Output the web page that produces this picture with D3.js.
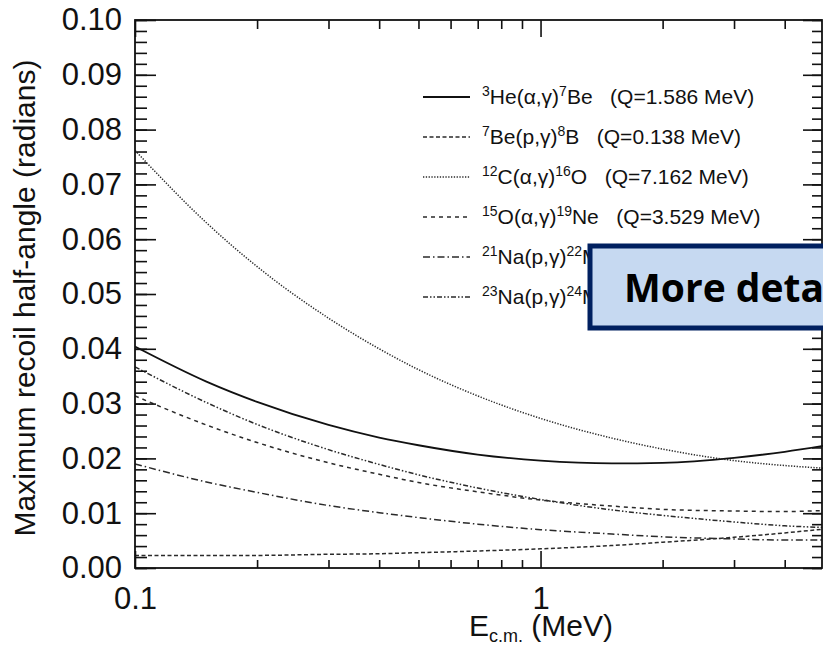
<!DOCTYPE html>
<html>
<head>
  <style>
    body {
      margin: 0;
      background: white;
    }
  </style>
</head>
<body>
  <div id="chart"></div>

  <script src="https://d3js.org/d3.v7.min.js"></script>
  <script>
  const energies = [0.1, 0.15, 0.2, 0.3, 0.4, 0.5, 0.7, 1, 1.5, 2, 3, 4, 5];

  // max recoil half-angle (radians) for each reaction
  const he3 = [0.0404, 0.0340, 0.0303, 0.0261, 0.0238, 0.0224, 0.0207, 0.0196, 0.0191, 0.0192, 0.0201, 0.0212, 0.0223];
  const be7 = [0.0023, 0.0023, 0.0023, 0.0025, 0.0026, 0.0028, 0.0031, 0.0035, 0.0041, 0.0047, 0.0056, 0.0064, 0.0071];
  const c12 = [0.0762, 0.0630, 0.0550, 0.0456, 0.0400, 0.0362, 0.0314, 0.0273, 0.0237, 0.0217, 0.0196, 0.0187, 0.0182];
  const o15 = [0.0314, 0.0261, 0.0229, 0.0192, 0.0171, 0.0156, 0.0139, 0.0124, 0.0113, 0.0107, 0.0104, 0.0103, 0.0105];
  const na21 = [0.0190, 0.0157, 0.0138, 0.0114, 0.0101, 0.0092, 0.0080, 0.0070, 0.0062, 0.0057, 0.0053, 0.0051, 0.0051];
  const na23 = [0.0367, 0.0302, 0.0262, 0.0216, 0.0189, 0.0170, 0.0146, 0.0125, 0.0106, 0.0096, 0.0084, 0.0077, 0.0074];

  // legend text pieces
  const beamMass = ["3", "7", "12", "15", "21", "23"];
  const beamSym = ["He", "Be", "C", "O", "Na", "Na"];
  const projectile = ["α", "p", "α", "α", "p", "p"];
  const prodMass = ["7", "8", "16", "19", "22", "24"];
  const prodSym = ["Be", "B", "O", "Ne", "Mg", "Mg"];
  const qValues = ["1.586", "0.138", "7.162", "3.529", "5.504", "11.693"];

  // axis ticks
  const yMajor = [0, 0.01, 0.02, 0.03, 0.04, 0.05, 0.06, 0.07, 0.08, 0.09, 0.10];
  const yMinor = d3.range(0, 0.1001, 0.002);
  const xMajor = [0.1, 1];
  const xMinor = [0.2, 0.3, 0.4, 0.5, 0.6, 0.7, 0.8, 0.9, 2, 3, 4];

  const series = [he3, be7, c12, o15, na21, na23];
  const dashes = ["none", "4,2.5", "1.3,1.5", "4,4", "7,3,1.5,3", "5,2,1.5,2,1.5,2"];

  const W = 823, H = 648;
  const pLeft = 135, pRight = 824, pTop = 20, pBottom = 568;
  const font = "'Liberation Sans', Arial, sans-serif";

  const svg = d3.select("#chart").append("svg")
      .attr("width", W)
      .attr("height", H)
      .attr("font-family", font);

  const x = d3.scaleLog().domain([0.1, 5]).range([pLeft, pRight]);
  const y = d3.scaleLinear().domain([0, 0.1]).range([pBottom, pTop]);

  svg.append("clipPath").attr("id", "clip")
    .append("rect")
      .attr("x", pLeft).attr("y", pTop)
      .attr("width", pRight - pLeft).attr("height", pBottom - pTop);

  // curves
  const line = d3.line()
      .x((d, i) => x(energies[i]))
      .y(d => y(d))
      .curve(d3.curveMonotoneX);

  svg.append("g")
      .attr("clip-path", "url(#clip)")
    .selectAll("path")
    .data(series)
    .join("path")
      .attr("d", line)
      .attr("fill", "none")
      .attr("stroke", (d, i) => i == 0 ? "#111" : "#2a2a2a")
      .attr("stroke-width", (d, i) => i == 0 ? 1.8 : 1.5)
      .attr("stroke-dasharray", (d, i) => dashes[i]);

  // axes, ticks pointing inward
  function ticksOnly(g) {
    g.select(".domain").remove();
    g.selectAll(".tick line").attr("stroke", "#111").attr("stroke-width", 1.6);
  }

  svg.append("g")
      .attr("transform", `translate(${pLeft},0)`)
      .call(d3.axisLeft(y).tickValues(yMinor).tickSize(-12).tickFormat(""))
      .call(ticksOnly);
  svg.append("g")
      .attr("transform", `translate(${pLeft},0)`)
      .call(d3.axisLeft(y).tickValues(yMajor).tickSize(-21).tickPadding(13)
        .tickFormat(d3.format(".2f")))
      .call(ticksOnly)
      .selectAll("text")
        .attr("font-family", font)
        .attr("font-size", 31)
        .attr("fill", "#111");

  svg.append("g")
      .attr("transform", `translate(${pRight - 2},0)`)
      .call(d3.axisRight(y).tickValues(yMinor).tickSize(-10).tickFormat(""))
      .call(ticksOnly);
  svg.append("g")
      .attr("transform", `translate(${pRight - 2},0)`)
      .call(d3.axisRight(y).tickValues(yMajor).tickSize(-19).tickFormat(""))
      .call(ticksOnly);

  svg.append("g")
      .attr("transform", `translate(0,${pBottom})`)
      .call(d3.axisBottom(x).tickValues(xMinor).tickSize(-8).tickFormat(""))
      .call(ticksOnly);
  svg.append("g")
      .attr("transform", `translate(0,${pBottom})`)
      .call(d3.axisBottom(x).tickValues(xMajor).tickSize(-17).tickPadding(19)
        .tickFormat(d => d == 1 ? "1" : "0.1"))
      .call(ticksOnly)
      .selectAll("text")
        .attr("font-family", font)
        .attr("font-size", 31)
        .attr("fill", "#111");

  svg.append("g")
      .attr("transform", `translate(0,${pTop})`)
      .call(d3.axisTop(x).tickValues(xMinor).tickSize(-9).tickFormat(""))
      .call(ticksOnly);
  svg.append("g")
      .attr("transform", `translate(0,${pTop})`)
      .call(d3.axisTop(x).tickValues(xMajor).tickSize(-17).tickFormat(""))
      .call(ticksOnly);

  // frame
  svg.append("rect")
      .attr("x", pLeft).attr("y", pTop)
      .attr("width", pRight - 2 - pLeft).attr("height", pBottom - pTop)
      .attr("fill", "none")
      .attr("stroke", "#111")
      .attr("stroke-width", 1.8);

  // axis titles
  const xt = svg.append("text")
      .attr("x", 541).attr("y", 636)
      .attr("text-anchor", "middle")
      .attr("font-size", 30)
      .attr("fill", "#111");
  xt.append("tspan").text("E");
  xt.append("tspan").attr("font-size", 18).attr("dy", 6).text("c.m.");
  xt.append("tspan").attr("dy", -6).text(" (MeV)");

  svg.append("text")
      .attr("transform", "translate(35,298) rotate(-90)")
      .attr("text-anchor", "middle")
      .attr("font-size", 30)
      .attr("fill", "#111")
      .text("Maximum recoil half-angle (radians)");

  // legend
  const legend = svg.append("g");
  series.forEach((s, i) => {
    const ly = 97 + i * 40;
    legend.append("line")
        .attr("x1", 423).attr("x2", 470)
        .attr("y1", ly).attr("y2", ly)
        .attr("stroke", i == 0 ? "#111" : "#2a2a2a")
        .attr("stroke-width", i == 0 ? 1.8 : 1.5)
        .attr("stroke-dasharray", dashes[i]);

    const t = legend.append("text")
        .attr("x", 482).attr("y", ly + 7)
        .attr("font-size", 21)
        .attr("fill", "#111")
        .style("white-space", "pre");
    t.append("tspan").attr("font-size", 14).attr("dy", -8).text(beamMass[i]);
    t.append("tspan").attr("dy", 8).text(beamSym[i] + "(" + projectile[i] + ",γ)");
    t.append("tspan").attr("font-size", 14).attr("dy", -8).text(prodMass[i]);
    t.append("tspan").attr("dy", 8).text(prodSym[i] + "   (Q=" + qValues[i] + " MeV)");
  });

  // overlay box
  svg.append("rect")
      .attr("x", 590).attr("y", 246)
      .attr("width", 260).attr("height", 82)
      .attr("fill", "#c6d9f1")
      .attr("stroke", "#002060")
      .attr("stroke-width", 5);
  svg.append("text")
      .attr("x", 624).attr("y", 302)
      .attr("font-family", "'Open Sans', Lato, sans-serif")
      .attr("font-weight", "bold")
      .attr("font-size", 39)
      .attr("fill", "#000")
      .text("More details");
  </script>
</body>
</html>
